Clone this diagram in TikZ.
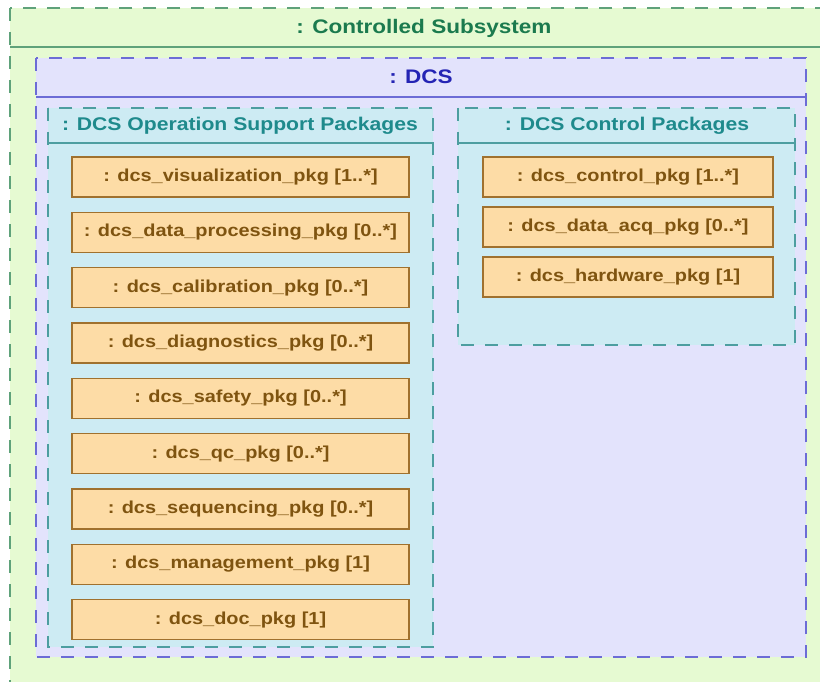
\documentclass[tikz,border=0pt]{standalone}
\usepackage{fontspec}
\setmainfont[FakeStretch=1.15]{Liberation Sans}
\usepackage{tikz}
\usepackage{xcolor}
\usetikzlibrary{positioning}

\definecolor{subfill}{HTML}{E6FAD2}
\definecolor{subline}{HTML}{5FA27A}
\definecolor{subtext}{HTML}{1B7A4E}
\definecolor{dcsfill}{HTML}{E3E3FC}
\definecolor{dcsline}{HTML}{6C6CD6}
\definecolor{dcstext}{HTML}{2424B4}
\definecolor{pkgfill}{HTML}{CDEBF3}
\definecolor{pkgline}{HTML}{4D9EA0}
\definecolor{pkgtext}{HTML}{1E8A8C}
\definecolor{itemfill}{HTML}{FDDCA6}
\definecolor{itemline}{HTML}{A0712E}
\definecolor{itemtext}{HTML}{7F5410}

\begin{document}
\begin{tikzpicture}[x=0.75pt,y=-0.75pt,line width=1.5pt,
  frame/.style={dash pattern=on 10pt off 8pt},
  title/.style={font=\bfseries\fontsize{14.7}{16}\selectfont,inner sep=0pt},
  item/.style={draw=itemline,fill=itemfill,line width=1.1pt,text=itemtext,
    font=\bfseries\fontsize{13}{15}\selectfont,inner sep=0pt,minimum height=30pt}]
\useasboundingbox (0,0) rectangle (820,681);
\clip (0,0) rectangle (820,681);
% controlled subsystem
\draw[frame,draw=subline,fill=subfill] (10,8) rectangle (845,710);
\draw[subline] (10,47) -- (845,47);
\node (sub) at (424,28) [title,text=subtext] {: Controlled Subsystem};
% dcs
\draw[frame,draw=dcsline,fill=dcsfill] (36,58) rectangle (806,657);
\draw[dcsline] (36,97) -- (806,97);
\node (dcs) at (421,77) [title,text=dcstext] {: DCS};
% packages
\draw[frame,draw=pkgline,fill=pkgfill] (48,108) rectangle (433,647);
\draw[pkgline] (48,143) -- (433,143);
\node (ops) at (240,126) [title,text=pkgtext,font=\bfseries\fontsize{13.8}{15}\selectfont] {: DCS Operation Support Packages};
\draw[frame,draw=pkgline,fill=pkgfill] (458,108) rectangle (795,345);
\draw[pkgline] (458,143) -- (795,143);
\node (ctl) at (627,126) [title,text=pkgtext,font=\bfseries\fontsize{13.8}{15}\selectfont] {: DCS Control Packages};
% operation support items
\node (vis) at (240.5,177) [item,minimum width=252.75pt] {: dcs\_visualization\_pkg [1..*]};
\node (proc) [item,minimum width=252.75pt,below=10.4pt of vis] {: dcs\_data\_processing\_pkg [0..*]};
\node (cal) [item,minimum width=252.75pt,below=10.4pt of proc] {: dcs\_calibration\_pkg [0..*]};
\node (diag) [item,minimum width=252.75pt,below=10.4pt of cal] {: dcs\_diagnostics\_pkg [0..*]};
\node (safe) [item,minimum width=252.75pt,below=10.4pt of diag] {: dcs\_safety\_pkg [0..*]};
\node (qc) [item,minimum width=252.75pt,below=10.4pt of safe] {: dcs\_qc\_pkg [0..*]};
\node (seq) [item,minimum width=252.75pt,below=10.4pt of qc] {: dcs\_sequencing\_pkg [0..*]};
\node (mgmt) [item,minimum width=252.75pt,below=10.4pt of seq] {: dcs\_management\_pkg [1]};
\node (doc) [item,minimum width=252.75pt,below=10.4pt of mgmt] {: dcs\_doc\_pkg [1]};
% control items
\node (ctrl) at (628,177) [item,minimum width=217.5pt] {: dcs\_control\_pkg [1..*]};
\node (acq) [item,minimum width=217.5pt,below=6.4pt of ctrl] {: dcs\_data\_acq\_pkg [0..*]};
\node (hw) [item,minimum width=217.5pt,below=6.4pt of acq] {: dcs\_hardware\_pkg [1]};
\end{tikzpicture}
\end{document}
